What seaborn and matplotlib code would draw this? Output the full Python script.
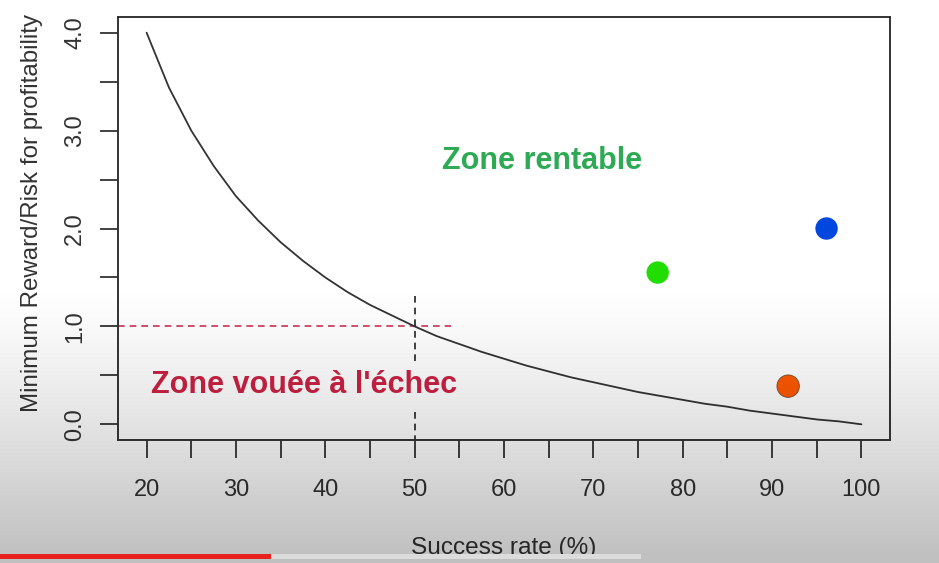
import numpy as np
import pandas as pd
import matplotlib
matplotlib.use("Agg")
import matplotlib.pyplot as plt
import seaborn as sns

# ---- data ----
success_rate = [20, 22.5, 25, 27.5, 30, 32.5, 35, 37.5, 40, 42.5, 45, 47.5, 50,
                52.5, 55, 57.5, 60, 62.5, 65, 67.5, 70, 72.5, 75, 77.5, 80,
                82.5, 85, 87.5, 90, 92.5, 95, 97.5, 100]
min_rr = [4.00, 3.44, 3.00, 2.64, 2.33, 2.08, 1.86, 1.67, 1.50, 1.35, 1.22, 1.11, 1.00,
          0.90, 0.82, 0.74, 0.67, 0.60, 0.54, 0.48, 0.43, 0.38, 0.33, 0.29, 0.25,
          0.21, 0.18, 0.14, 0.11, 0.08, 0.05, 0.03, 0.00]

point_x = [77.2, 96.1, 91.8]
point_y = [1.55, 2.00, 0.39]
point_names = ["green", "blue", "orange"]
point_colors = ["#22dd00", "#0047e0", "#ff5a00"]

x_ticks = [20, 25, 30, 35, 40, 45, 50, 55, 60, 65, 70, 75, 80, 85, 90, 95, 100]
x_labeled = [20, 30, 40, 50, 60, 70, 80, 90, 100]
y_ticks = [0.0, 0.5, 1.0, 1.5, 2.0, 2.5, 3.0, 3.5, 4.0]
y_labeled = [0.0, 1.0, 2.0, 3.0, 4.0]

sns.set_theme(style="white")
plt.rcParams['font.family'] = ['Liberation Sans', 'DejaVu Sans']

W, H = 939, 563
fig = plt.figure(figsize=(W / 100, H / 100), dpi=100, facecolor="white")
ax = fig.add_axes([118 / W, (H - 440) / H, (890 - 118) / W, (440 - 17) / H])
ax.set_facecolor("white")

curve = pd.DataFrame({"x": success_rate, "y": min_rr})
sns.lineplot(data=curve, x="x", y="y", ax=ax, color="#333333", linewidth=1.3,
             zorder=3, sort=False)

pts = pd.DataFrame({"x": point_x, "y": point_y, "name": point_names})
sns.scatterplot(data=pts, x="x", y="y", hue="name", palette=dict(zip(point_names, point_colors)),
                s=260, ax=ax, legend=False, zorder=4,
                edgecolor=["#22dd00", "#0047e0", "#7a4a30"], linewidth=[0, 0, 0.6])

ax.set_xlim(16.8, 103.2)
ax.set_ylim(-0.16, 4.16)

# reference lines
ax.plot([16.8, 54.1], [1.0, 1.0], color="#cc3355", linestyle=(0, (4, 3)), linewidth=1.2, zorder=2)
ax.plot([50, 50], [1.31, 0.65], color="#222222", linestyle=(0, (4, 3)), linewidth=1.2, zorder=2)
ax.plot([50, 50], [0.13, -0.16], color="#222222", linestyle=(0, (4, 3)), linewidth=1.2, zorder=2)

ax.text(64.3, 2.69, "Zone rentable", color="#2eaa55", fontsize=22, fontweight="bold",
        ha="center", va="center")
ax.text(37.6, 0.40, "Zone vouée à l'échec", color="#cc2244", fontsize=22, fontweight="bold",
        ha="center", va="center")

for s in ax.spines.values():
    s.set_visible(True)
    s.set_color("#333333")
    s.set_linewidth(1.4)

ax.set_xticks(x_ticks)
ax.set_xticklabels([str(t) if t in x_labeled else "" for t in x_ticks])
ax.set_yticks(y_ticks)
ax.set_yticklabels([f"{t:.1f}" if t in y_labeled else "" for t in y_ticks],
                   rotation=90, va="center")
ax.tick_params(axis="both", which="major", length=13, width=1.3, color="#333333",
               labelsize=17, labelcolor="#333333", direction="out",
               bottom=True, left=True)
ax.tick_params(axis="x", pad=15)
ax.tick_params(axis="y", pad=10)

ax.set_xlabel("Success rate (%)", fontsize=17.6, color="#333333", labelpad=26)
ax.set_ylabel("Minimum Reward/Risk for profitability", fontsize=17.4, color="#333333")
ax.yaxis.set_label_coords((43 - 118) / 772, (440 - 213) / 423)

# video overlay gradient at the bottom
ov = fig.add_axes([0, 0, 1, 1], zorder=10)
ov.set_axis_off()
rows = np.arange(H)
alpha = np.clip((rows - 285) / (555 - 285), 0, 1) ** 1.2 * 0.25
img = np.zeros((H, W, 4))
img[..., 3] = alpha[:, None]
ov.imshow(img, extent=[0, W, H, 0], aspect="auto", interpolation="bilinear")
ov.add_patch(plt.Rectangle((0, 554), 271, 5, color="#e8211f", linewidth=0))
ov.add_patch(plt.Rectangle((271, 554), 370, 5, color="#dcdcdc", linewidth=0))
ov.set_xlim(0, W)
ov.set_ylim(H, 0)

fig.savefig("out.png", dpi=100, facecolor="white")
